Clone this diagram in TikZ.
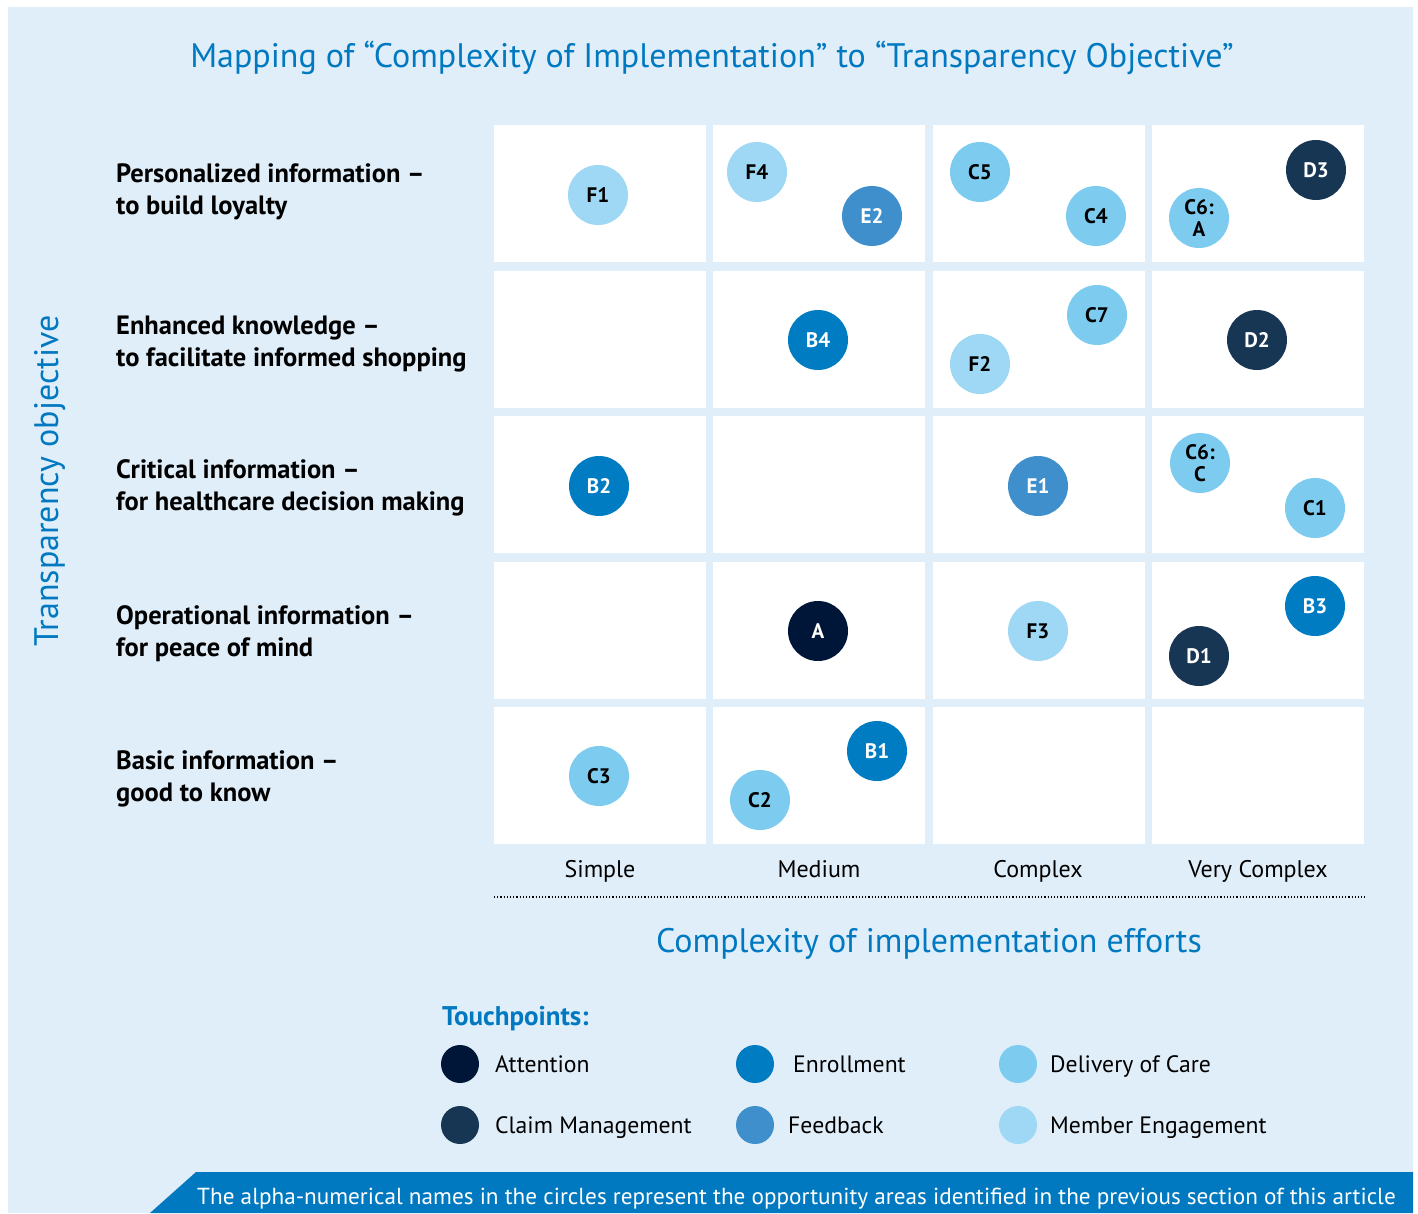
\documentclass[tikz,border=0pt]{standalone}
\usepackage{fontspec}
\setmainfont{PT Sans}
\definecolor{bgblue}{HTML}{E0EEF9}
\definecolor{headblue}{HTML}{0079C1}
\definecolor{cattn}{HTML}{001638}
\definecolor{cclaim}{HTML}{173654}
\definecolor{cenrol}{HTML}{007CC2}
\definecolor{cfeed}{HTML}{3F8FCD}
\definecolor{ccare}{HTML}{7DCCF0}
\definecolor{cmember}{HTML}{9ED8F4}
\begin{document}
\begin{tikzpicture}[x=1pt,y=-1pt,
  tp/.style={circle,minimum size=60pt,inner sep=0pt,align=center,
    font=\fontsize{21}{22}\selectfont\bfseries},
  attn/.style={tp,fill=cattn,text=white},
  claim/.style={tp,fill=cclaim,text=white},
  enrol/.style={tp,fill=cenrol,text=white},
  feed/.style={tp,fill=cfeed,text=white},
  care/.style={tp,fill=ccare,text=black},
  member/.style={tp,fill=cmember,text=black},
  rowlabel/.style={anchor=west,align=left,inner sep=0pt,font=\fontsize{26.5}{32}\selectfont\bfseries},
  collabel/.style={anchor=base,font=\fontsize{24}{26}\selectfont},
  legdot/.style={circle,minimum size=38pt,inner sep=0pt},
  legtext/.style={anchor=base west,inner sep=0pt,font=\fontsize{23.7}{26}\selectfont},
  bigtitle/.style={text=headblue,font=\fontsize{34}{36}\selectfont}]
\useasboundingbox (0,0) rectangle (1418,1213);
\fill [bgblue] (8,7) rectangle (1413,1213);

% title and axes
\node [bigtitle] (title) at (712,58) {Mapping of “Complexity of Implementation” to “Transparency Objective”};
\node [bigtitle,rotate=90] (yaxis) at (50,481) {Transparency objective};
\node [bigtitle] (xaxis) at (929,944) {Complexity of implementation efforts};

% grid of cells
\foreach \cx in {494,713,933,1152}
  \foreach \cy in {125,271,416,562,707}
    \fill [white] (\cx,\cy) rectangle +(212,137);

% row labels
\node [rowlabel] (row1) at (116,192) {Personalized information –\\to build loyalty};
\node [rowlabel] (row2) at (116,344) {Enhanced knowledge –\\to facilitate informed shopping};
\node [rowlabel] (row3) at (116,488) {Critical information –\\for healthcare decision making};
\node [rowlabel] (row4) at (116,634) {Operational information –\\for peace of mind};
\node [rowlabel] (row5) at (116,779) {Basic information –\\good to know};

% column labels
\node [collabel] (simple) at (600,877) {Simple};
\node [collabel] (medium) at (819,877) {Medium};
\node [collabel] (complex) at (1038,877) {Complex};
\node [collabel] (vcomplex) at (1258,877) {Very Complex};
\draw [dotted,line width=1.2pt] (494,897) -- (1365,897);

% touchpoints in the grid
\node [member] (F1) at (598,195) {F1};
\node [member] (F4) at (757,172) {F4};
\node [feed] (E2) at (872,216) {E2};
\node [care] (C5) at (980,172) {C5};
\node [care] (C4) at (1096,216) {C4};
\node [care] (C6A) at (1199,218) {C6:\\A};
\node [claim] (D3) at (1316,170) {D3};

\node [enrol] (B4) at (818,340) {B4};
\node [care] (C7) at (1097,315) {C7};
\node [member] (F2) at (980,364) {F2};
\node [claim] (D2) at (1257,340) {D2};

\node [enrol] (B2) at (599,486) {B2};
\node [feed] (E1) at (1038,486) {E1};
\node [care] (C6C) at (1200,463) {C6:\\C};
\node [care] (C1) at (1315,508) {C1};

\node [attn] (A) at (818,631) {A};
\node [member] (F3) at (1038,631) {F3};
\node [enrol] (B3) at (1315,606) {B3};
\node [claim] (D1) at (1199,656) {D1};

\node [care] (C3) at (599,776) {C3};
\node [enrol] (B1) at (877,751) {B1};
\node [care] (C2) at (760,800) {C2};

% legend
\node [anchor=base west,inner sep=0pt,text=headblue,font=\fontsize{27}{28}\selectfont\bfseries] (touch) at (442,1025) {Touchpoints:};
\node [legdot,fill=cattn] (lattn) at (460,1064) {};
\node [legtext] at (495,1072) {Attention};
\node [legdot,fill=cenrol] (lenrol) at (755,1064) {};
\node [legtext] at (793,1072) {Enrollment};
\node [legdot,fill=ccare] (lcare) at (1018,1064) {};
\node [legtext] at (1050,1072) {Delivery of Care};
\node [legdot,fill=cclaim] (lclaim) at (460,1125) {};
\node [legtext] at (495,1133) {Claim Management};
\node [legdot,fill=cfeed] (lfeed) at (755,1125) {};
\node [legtext] at (788,1133) {Feedback};
\node [legdot,fill=cmember] (lmember) at (1018,1125) {};
\node [legtext] at (1050,1133) {Member Engagement};

% footer banner
\fill [headblue] (150,1213) -- (196,1172) -- (1413,1172) -- (1413,1213) -- cycle;
\node [anchor=base east,inner sep=0pt,text=white,font=\fontsize{23.2}{24}\selectfont] (note) at (1396,1204) {The alpha-numerical names in the circles represent the opportunity areas identified in the previous section of this article};
\end{tikzpicture}
\end{document}
